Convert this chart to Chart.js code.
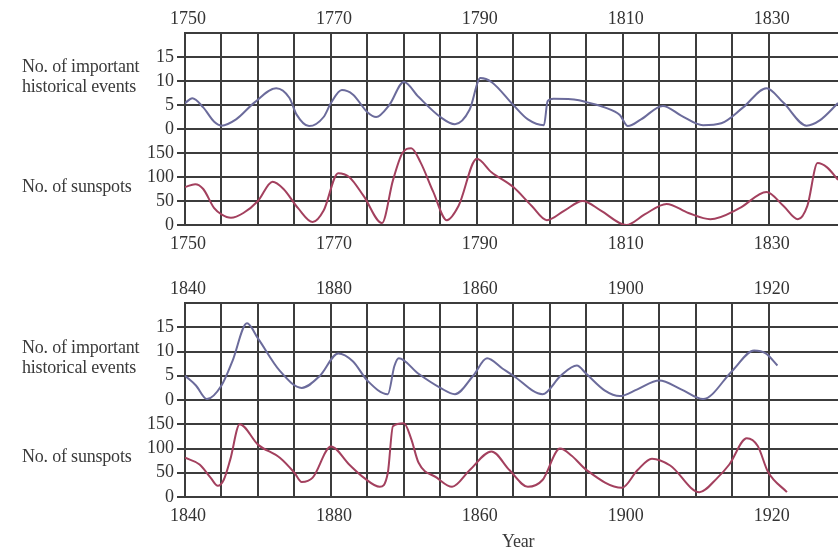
<!DOCTYPE html>
<html>
<head>
<meta charset="utf-8">
<script src="https://cdn.jsdelivr.net/npm/chart.js@4.4.1/dist/chart.umd.min.js"></script>
<style>
  body { margin: 0; background: #fff; }
  #wrap { position: relative; width: 838px; height: 550px; overflow: hidden; }
  canvas { position: absolute; left: 0; }
  .lbl {
    position: absolute; left: 22px;
    font: 18px "Liberation Serif", serif; line-height: 20px;
    color: #3a3a3a; white-space: nowrap; letter-spacing: -0.2px;
  }
</style>
</head>
<body>
<div id="wrap">
  <canvas id="chartA" width="838" height="260" style="top:0"></canvas>
  <canvas id="chartB" width="838" height="280" style="top:270px"></canvas>
  <div class="lbl" style="top:56px">No. of important<br>historical events</div>
  <div class="lbl" style="top:176px">No. of sunspots</div>
  <div class="lbl" style="top:337px">No. of important<br>historical events</div>
  <div class="lbl" style="top:446px">No. of sunspots</div>
  <div class="lbl" style="top:531px; left:502px">Year</div>
</div>
<script>
// Upper panel, 1750-1840

const eventYearsA = [1750, 1751, 1752.5, 1754, 1755, 1757, 1759.5, 1762.5, 1764.3, 1765.3, 1767, 1769, 1770, 1771.5, 1773, 1775, 1776.2, 1778, 1780, 1782, 1785, 1787, 1789, 1790.5, 1792, 1795, 1797, 1799.2, 1799.7, 1800.5, 1804, 1805, 1807.5, 1809.6, 1810.7, 1812.5, 1815.5, 1818, 1821, 1823.5, 1826.5, 1829.7, 1832, 1835.2, 1837, 1839.5]
const eventValsA = [5.4, 6.4, 4.5, 1.5, 0.7, 2, 5.5, 8.5, 6.5, 3, 0.6, 2.5, 5.4, 8.1, 7.2, 3.5, 2.5, 5, 9.8, 6.7, 2.5, 1.0, 4, 10.6, 9.8, 5, 2, 0.8, 5.8, 6.3, 6, 5.6, 4.5, 2.9, 0.6, 2, 4.8, 2.8, 0.8, 1.2, 4.5, 8.5, 5.5, 0.7, 1.8, 5.4]

const sunYearsA = [1750, 1751.4, 1752.5, 1754, 1755, 1756.3, 1758, 1760, 1762, 1763.5, 1765.5, 1767.5, 1769, 1771, 1772.5, 1774.5, 1777, 1778.5, 1779.8, 1781, 1782.3, 1784, 1785.9, 1787.5, 1790, 1792, 1795, 1797.5, 1799.6, 1802, 1804.5, 1807, 1810.5, 1813, 1816, 1819, 1822, 1826, 1829.7, 1832, 1834, 1835.3, 1836.7, 1838, 1839.5]
const sunValsA = [79, 85, 75, 35, 22, 15, 25, 50, 90, 75, 35, 6, 30, 108, 100, 60, 4, 93, 150, 160, 130, 70, 10, 40, 138, 110, 79, 40, 10, 30, 50, 30, 0, 22, 44, 25, 12, 35, 69, 40, 12, 40, 129, 120, 94]

const labelYearsA = [1750, 1770, 1790, 1810, 1830]
const tickLabelsA = ["1750", "1770", "1790", "1810", "1830"]

// Lower panel, 1840-1930 (labels as printed)

const eventYearsB = [1840, 1841.5, 1843, 1845, 1846.5, 1848.5, 1850, 1853, 1856, 1858.5, 1861, 1863, 1865, 1867.8, 1868.7, 1869.3, 1872, 1875, 1877, 1879.5, 1881.4, 1883.5, 1885, 1889, 1891.5, 1893.7, 1895, 1897.5, 1899.6, 1902, 1905, 1908, 1911, 1915, 1918, 1919.6, 1921.2]
const eventValsB = [5, 3, 0.2, 3, 8, 15.8, 12.7, 6, 2.5, 5, 9.6, 8, 4, 1.2, 7, 8.6, 5.4, 2.5, 1.2, 5, 8.6, 6.5, 5, 1.2, 5, 7.1, 5.4, 2, 0.8, 2.2, 4, 2.2, 0.2, 6, 10.2, 9.6, 7.1]

const sunYearsB = [1840, 1842, 1843.5, 1844.5, 1845.3, 1846.2, 1847.5, 1850, 1853, 1855, 1856, 1857.5, 1860, 1862.5, 1864.5, 1866.7, 1867.8, 1868.5, 1870, 1871, 1872, 1874.5, 1876.6, 1879, 1882, 1884.5, 1887, 1889, 1891.4, 1893, 1895, 1899.9, 1902, 1904, 1906.5, 1910.5, 1913, 1914.6, 1917, 1918.5, 1919.9, 1922.5]
const sunValsB = [81, 67, 40, 23, 35, 77, 150, 108, 81, 50, 31, 40, 104, 67, 40, 21, 50, 146, 152, 120, 71, 40, 21, 55, 94, 55, 21, 35, 100, 85, 56, 19, 55, 79, 65, 10, 40, 67, 121, 105, 52, 10]

const labelYearsB = [1840, 1860, 1880, 1900, 1920]
const tickLabelsB = ["1840", "1880", "1860", "1900", "1920"]

const EVENT_COLOR = "#6b6b9b"
const SUN_COLOR = "#a3405e"
const GRID = "#3c3c3c"
const FONT = { family: "'Liberation Serif', serif", size: 18 }

function points(xs, ys) {
  return xs.map((x, i) => ({ x: x, y: ys[i] }))
}

function makePanel(id, start, evYears, evVals, snYears, snVals, labelYears, tickLabels, bottomHeight) {
  const xLabel = (v) => {
    const i = labelYears.indexOf(v)
    return i >= 0 ? tickLabels[i] : ""
  }
  const xAxis = (pos, h, pad) => ({
    type: "linear",
    position: pos,
    min: start,
    max: start + 89.5,
    grid: { color: GRID, lineWidth: 2, drawTicks: false, display: pos === "bottom" },
    border: { color: GRID, width: 2 },
    ticks: {
      stepSize: 5, autoSkip: false, maxRotation: 0, padding: pad, labelOffset: 3,
      color: "#333", font: FONT, callback: xLabel,
    },
    afterBuildTicks: (s) => { s.ticks = s.ticks.filter((t) => (t.value - start) % 5 === 0) },
    afterFit: (s) => { s.height = h },
  })
  const yAxis = (max, step) => ({
    type: "linear",
    position: "left",
    stack: "panel",
    stackWeight: 1,
    min: 0,
    max: max,
    grid: {
      color: GRID, lineWidth: 2, tickLength: 8,
      tickColor: (c) => (c.tick && c.tick.value === max ? "rgba(0,0,0,0)" : GRID),
    },
    border: { color: GRID, width: 2 },
    ticks: {
      stepSize: step, autoSkip: false, padding: 3, color: "#333", font: FONT,
      callback: (v) => (v === max ? "" : v),
    },
    afterFit: (s) => { s.width = 185 },
  })

  return new Chart(document.getElementById(id), {
    type: "line",
    data: {
      datasets: [
        {
          data: points(snYears, snVals), yAxisID: "yS",
          borderColor: SUN_COLOR, borderWidth: 2, pointRadius: 0,
          cubicInterpolationMode: "monotone",
        },
        {
          data: points(evYears, evVals), yAxisID: "yE",
          borderColor: EVENT_COLOR, borderWidth: 2, pointRadius: 0,
          cubicInterpolationMode: "monotone",
        },
      ],
    },
    options: {
      responsive: false,
      animation: false,
      layout: { padding: 0 },
      plugins: { legend: { display: false }, tooltip: { enabled: false } },
      scales: {
        x: xAxis("bottom", bottomHeight, 8),
        xTop: xAxis("top", 33, 3),
        yS: yAxis(200, 50),
        yE: yAxis(20, 5),
      },
    },
  })
}

makePanel("chartA", 1750, eventYearsA, eventValsA, sunYearsA, sunValsA, labelYearsA, tickLabelsA, 35)
makePanel("chartB", 1840, eventYearsB, eventValsB, sunYearsB, sunValsB, labelYearsB, tickLabelsB, 53)
</script>
</body>
</html>
